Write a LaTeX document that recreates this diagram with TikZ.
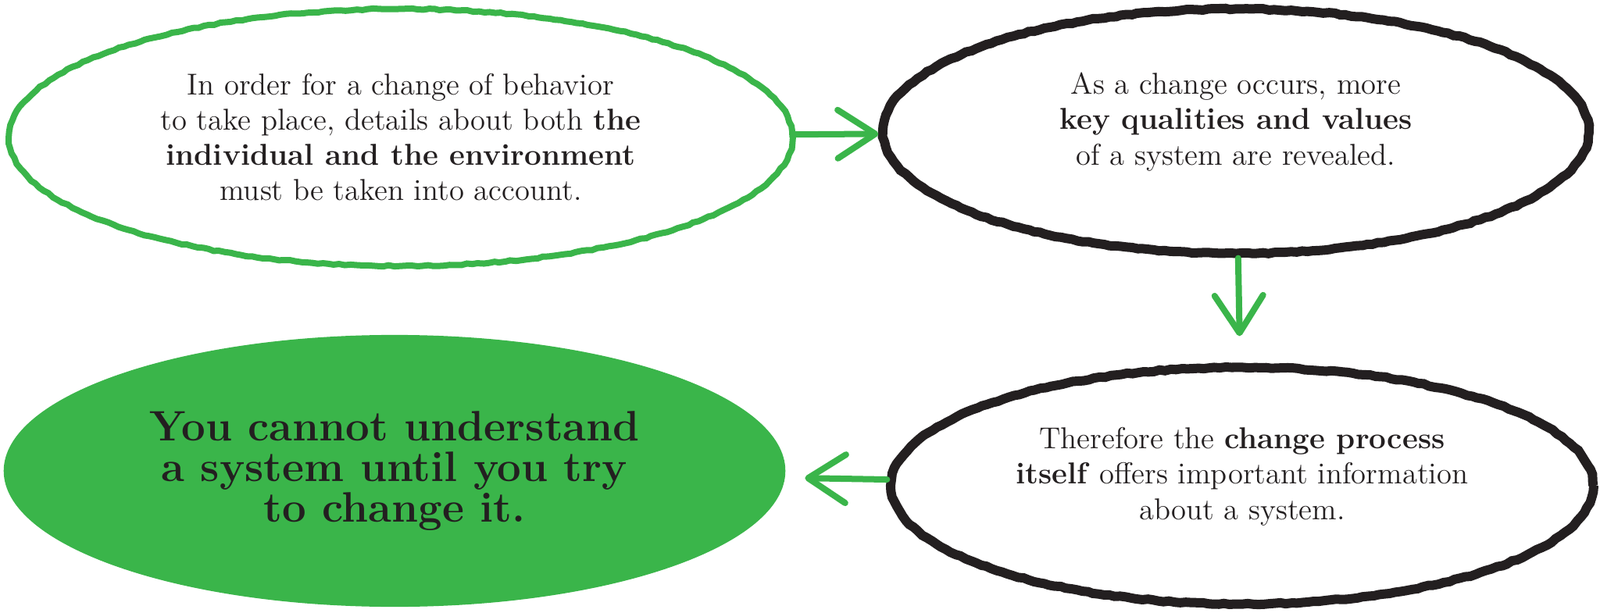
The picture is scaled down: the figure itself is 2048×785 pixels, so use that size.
\documentclass[tikz,border=0pt]{standalone}
\usepackage{tikz}
\usetikzlibrary{arrows.meta, shapes.geometric, positioning, decorations.pathmorphing}
\definecolor{leafgreen}{HTML}{3AB54A}
\definecolor{inkblack}{HTML}{231F20}
% text block raised a little above the centre of its ellipse
\newcommand{\liftedtext}[1]{\raisebox{1.1mm}[\height][\depth]{\begin{tabular}{@{}c@{}}#1\end{tabular}}}

\begin{document}
\begin{tikzpicture}[x=0.01cm, y=-0.01cm,
		thought/.style = {ellipse, draw=inkblack, line width=1.2mm, inner sep=0pt, align=center,
			text=inkblack, font=\fontsize{11}{12.8}\selectfont,
			decorate, decoration={random steps, segment length=2pt, amplitude=0.25pt}},
		greenthought/.style = {thought, draw=leafgreen, line width=0.8mm},
		goal/.style = {ellipse, fill=leafgreen, inner sep=0pt, align=center, text=inkblack,
			font=\fontsize{15.5}{14.8}\selectfont\bfseries},
		flow/.style = {draw=leafgreen, line width=0.8mm, line cap=round,
			-{Straight Barb[length=4.8mm, width=6.2mm, round]}}]
		\useasboundingbox (0,0) rectangle (2048,785);
		\node[greenthought, minimum width=10.02cm, minimum height=3.29cm] (behavior) at (513,176)
			{In order for a change of behavior\\to take place, details about both \textbf{the}\\
			\textbf{individual and the environment}\\must be taken into account.};
		\node[thought, minimum width=9.03cm, minimum height=3.13cm] (qualities) at (1582,168)
			{\liftedtext{As a change occurs, more\\\textbf{key qualities and values}\\of a system are revealed.}};
		\node[thought, minimum width=8.98cm, minimum height=3.03cm] (process) at (1590,622)
			{\liftedtext{Therefore the \textbf{change process}\\\textbf{itself} offers important information\\about a system.}};
		\node[goal, minimum width=10cm, minimum height=3.48cm] (understand) at (505,603)
			{You cannot understand\\a system until you try\\to change it.};
		\draw[flow] (behavior) -- (qualities);
		\draw[flow, shorten >=3.4mm] (qualities) -- (process);
		\draw[flow, shorten >=2.5mm] (process) -- (understand);
	\end{tikzpicture}
\end{document}
